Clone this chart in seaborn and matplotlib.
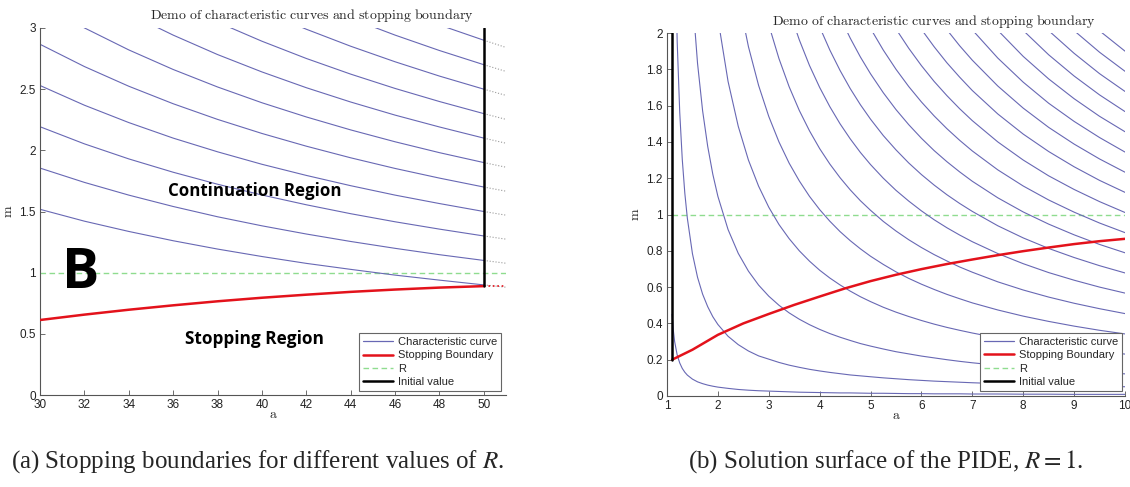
import numpy as np
import pandas as pd
import matplotlib
matplotlib.use("Agg")
import matplotlib.pyplot as plt
from matplotlib.lines import Line2D
from matplotlib.ticker import FormatStrFormatter
import seaborn as sns

# ---------------- panel (a) data ----------------
a_grid_a = [30, 32, 34, 36, 38, 40, 42, 44, 46, 48, 50]
char_curves_a = [
    [1.518, 1.421, 1.337, 1.261, 1.193, 1.132, 1.076, 1.027, 0.980, 0.939, 0.900],
    [1.855, 1.738, 1.634, 1.541, 1.457, 1.383, 1.316, 1.255, 1.199, 1.147, 1.100],
    [2.193, 2.053, 1.930, 1.821, 1.723, 1.635, 1.555, 1.482, 1.416, 1.356, 1.300],
    [2.530, 2.369, 2.227, 2.100, 1.988, 1.886, 1.795, 1.711, 1.634, 1.565, 1.500],
    [2.867, 2.685, 2.524, 2.381, 2.253, 2.138, 2.034, 1.939, 1.852, 1.773, 1.700],
    [3.205, 3.001, 2.821, 2.661, 2.518, 2.389, 2.273, 2.167, 2.070, 1.981, 1.900],
    [3.542, 3.316, 3.118, 2.942, 2.783, 2.641, 2.512, 2.395, 2.288, 2.191, 2.100],
    [3.879, 3.633, 3.414, 3.221, 3.048, 2.892, 2.751, 2.623, 2.506, 2.399, 2.300],
    [4.217, 3.948, 3.711, 3.501, 3.313, 3.144, 2.990, 2.851, 2.724, 2.607, 2.500],
    [4.554, 4.265, 4.009, 3.782, 3.579, 3.395, 3.229, 3.079, 2.942, 2.816, 2.700],
    [4.891, 4.580, 4.306, 4.062, 3.843, 3.647, 3.469, 3.307, 3.160, 3.025, 2.900],
]
ext_grid_a = [50, 51]
char_ext_end_a = [0.881, 1.077, 1.274, 1.470, 1.666, 1.862, 2.058, 2.253, 2.449, 2.645, 2.841]
boundary_m_a = [0.613, 0.657, 0.697, 0.733, 0.766, 0.795, 0.820, 0.843, 0.862, 0.878, 0.890]
boundary_ext_m_a = [0.890, 0.890]
R_a = 1.0
init_a = 50
init_range_a = [0.89, 3.0]

# ---------------- panel (b) data ----------------
a_grid_b = [1.1, 1.125, 1.15, 1.2, 1.25, 1.3, 1.35, 1.4, 1.5, 1.6, 1.7, 1.8, 1.9,
            2.0, 2.2, 2.4, 2.6, 2.8, 3.0, 3.2, 3.4, 3.6, 3.8, 4.0, 4.2, 4.4, 4.6,
            4.8, 5.0, 5.25, 5.5, 5.75, 6.0, 6.25, 6.5, 6.75, 7.0, 7.5, 8.0, 8.5,
            9.0, 9.5, 10.0]
# first a value of every characteristic curve (values then follow a_grid_b)
char_start_b = [1.1, 1.15, 1.5, 2.0, 2.4, 3.0, 3.4, 4.0, 4.4, 5.0, 5.5, 6.0, 6.5,
                7.0, 7.5, 8.0, 8.5, 9.0, 9.5]
char_curves_b = [
    [0.450, 0.360, 0.300, 0.226, 0.182, 0.152, 0.131, 0.115, 0.093, 0.078, 0.068,
     0.060, 0.054, 0.049, 0.042, 0.036, 0.032, 0.029, 0.027, 0.025, 0.023, 0.021,
     0.020, 0.019, 0.018, 0.017, 0.017, 0.016, 0.015, 0.015, 0.014, 0.013, 0.013,
     0.012, 0.012, 0.012, 0.011, 0.011, 0.010, 0.010, 0.009, 0.009, 0.009],
    [2.600, 1.954, 1.564, 1.304, 1.118, 0.979, 0.784, 0.654, 0.561, 0.492, 0.437,
     0.394, 0.329, 0.283, 0.248, 0.221, 0.203, 0.185, 0.170, 0.158, 0.147, 0.138,
     0.130, 0.123, 0.116, 0.111, 0.106, 0.100, 0.095, 0.090, 0.086, 0.082, 0.079,
     0.076, 0.073, 0.068, 0.064, 0.060, 0.057, 0.054, 0.051],
    [2.200, 1.833, 1.571, 1.375, 1.222, 1.100, 0.917, 0.786, 0.688, 0.611, 0.550,
     0.500, 0.458, 0.423, 0.393, 0.367, 0.344, 0.324, 0.306, 0.289, 0.275, 0.259,
     0.244, 0.232, 0.220, 0.210, 0.200, 0.191, 0.183, 0.169, 0.157, 0.147, 0.138,
     0.129, 0.122],
    [2.080, 1.733, 1.486, 1.300, 1.156, 1.040, 0.945, 0.867, 0.800, 0.743, 0.693,
     0.650, 0.612, 0.578, 0.547, 0.520, 0.489, 0.462, 0.438, 0.416, 0.396, 0.378,
     0.362, 0.347, 0.320, 0.297, 0.277, 0.260, 0.245, 0.231],
    [2.200, 1.925, 1.711, 1.540, 1.400, 1.283, 1.185, 1.100, 1.027, 0.963, 0.906,
     0.856, 0.811, 0.770, 0.725, 0.684, 0.648, 0.616, 0.587, 0.560, 0.536, 0.513,
     0.474, 0.440, 0.411, 0.385, 0.362, 0.342],
    [2.045, 1.859, 1.704, 1.573, 1.461, 1.363, 1.278, 1.203, 1.136, 1.076, 1.023,
     0.962, 0.909, 0.861, 0.818, 0.779, 0.744, 0.711, 0.682, 0.629, 0.584, 0.545,
     0.511, 0.481, 0.454],
    [2.125, 1.962, 1.821, 1.700, 1.594, 1.500, 1.417, 1.342, 1.275, 1.200, 1.133,
     1.074, 1.020, 0.971, 0.927, 0.887, 0.850, 0.785, 0.729, 0.680, 0.638, 0.600,
     0.567],
    [2.033, 1.906, 1.794, 1.694, 1.605, 1.525, 1.435, 1.356, 1.284, 1.220, 1.162,
     1.109, 1.061, 1.017, 0.938, 0.871, 0.813, 0.763, 0.718, 0.678],
    [2.088, 1.972, 1.868, 1.775, 1.671, 1.578, 1.495, 1.420, 1.352, 1.291, 1.235,
     1.183, 1.092, 1.014, 0.947, 0.888, 0.835, 0.789],
    [2.025, 1.906, 1.800, 1.705, 1.620, 1.543, 1.473, 1.409, 1.350, 1.246, 1.157,
     1.080, 1.013, 0.953, 0.900],
    [2.022, 1.916, 1.820, 1.733, 1.655, 1.583, 1.517, 1.400, 1.300, 1.213, 1.138,
     1.071, 1.011],
    [2.020, 1.924, 1.836, 1.757, 1.683, 1.554, 1.443, 1.347, 1.263, 1.188, 1.122],
    [2.018, 1.930, 1.850, 1.708, 1.586, 1.480, 1.388, 1.306, 1.233],
    [2.017, 1.862, 1.729, 1.613, 1.513, 1.424, 1.344],
    [2.015, 1.871, 1.747, 1.638, 1.541, 1.456],
    [2.014, 1.880, 1.763, 1.659, 1.567],
    [2.013, 1.888, 1.776, 1.678],
    [2.013, 1.894, 1.789],
    [2.012, 1.900],
]
boundary_a_b = [1.1, 1.5, 2.0, 2.5, 3.0, 3.5, 4.0, 4.5, 5.0, 5.5, 6.0, 6.5, 7.0,
                7.5, 8.0, 8.5, 9.0, 9.5, 10.0]
boundary_m_b = [0.200, 0.255, 0.337, 0.400, 0.452, 0.502, 0.548, 0.593, 0.633,
                0.668, 0.699, 0.727, 0.752, 0.776, 0.798, 0.818, 0.837, 0.853, 0.866]
R_b = 1.0
init_b = 1.1
init_range_b = [0.2, 2.0]

title_text = r"$\mathrm{Demo\ of\ characteristic\ curves\ and\ stopping\ boundary}$"
legend_labels = ["Characteristic curve", "Stopping Boundary", "R", "Initial value"]
caption_a = "(a) Stopping boundaries for different values of $R$."
caption_b = "(b) Solution surface of the PIDE, $R = 1$."

# ---------------- styling ----------------
BLUE = "#6868b4"
RED = "#e3121b"
GREEN = "#8fdc8f"
GREY = "#9a9a9a"
AXC = "#555555"

sns.set_theme(style="white")
plt.rcParams["font.family"] = ["Liberation Sans", "DejaVu Sans"]


def long_df_a(grid, curves):
    rows = []
    for i, c in enumerate(curves):
        for x, y in zip(grid, c):
            rows.append((i, x, y))
    return pd.DataFrame(rows, columns=["curve", "a", "m"])


def long_df_b(grid, starts, curves):
    rows = []
    for i, (s, c) in enumerate(zip(starts, curves)):
        k = grid.index(s)
        for x, y in zip(grid[k:], c):
            rows.append((i, x, y))
    return pd.DataFrame(rows, columns=["curve", "a", "m"])


fig = plt.figure(figsize=(11.3, 4.87), dpi=100)
axA = fig.add_axes([40 / 1130, 92 / 487, 466 / 1130, 367 / 487])
axB = fig.add_axes([667 / 1130, 91 / 487, 458 / 1130, 363 / 487])

# ---- panel (a) ----
dfA = long_df_a(a_grid_a, char_curves_a)
sns.lineplot(data=dfA, x="a", y="m", units="curve", estimator=None, color=BLUE,
             lw=0.8, ax=axA, legend=False)
ext_rows = []
for i, (c, e) in enumerate(zip(char_curves_a, char_ext_end_a)):
    ext_rows += [(i, ext_grid_a[0], c[-1]), (i, ext_grid_a[1], e)]
dfExt = pd.DataFrame(ext_rows, columns=["curve", "a", "m"])
sns.lineplot(data=dfExt, x="a", y="m", units="curve", estimator=None, color=GREY,
             lw=0.8, ls=":", ax=axA, legend=False)
axA.axhline(R_a, color=GREEN, lw=1.0, ls=(0, (4, 2.5)), zorder=1)
sns.lineplot(x=a_grid_a, y=boundary_m_a, color=RED, lw=1.8, ax=axA,
             estimator=None, legend=False, zorder=3)
axA.plot(ext_grid_a, boundary_ext_m_a, color=RED, lw=1.2, ls=":", zorder=3)
axA.plot([init_a, init_a], init_range_a, color="black", lw=1.8, zorder=4)

axA.text(39.66, 1.664, "Continuation Region", fontfamily="Open Sans",
         fontweight="bold", fontsize=12.2, ha="center", va="center", color="black")
axA.text(39.68, 0.456, "Stopping Region", fontfamily="Open Sans",
         fontweight="bold", fontsize=12.4, ha="center", va="center", color="black")
axA.text(31.85, 0.99, "B", fontfamily="Open Sans", fontweight="bold",
         fontsize=40, ha="center", va="center", color="black")

axA.set_xlim(30, 51)
axA.set_ylim(0, 3)
axA.set_xticks(list(range(30, 51, 2)))
axA.set_yticks([0, 0.5, 1, 1.5, 2, 2.5, 3])

# ---- panel (b) ----
dfB = long_df_b(a_grid_b, char_start_b, char_curves_b)
sns.lineplot(data=dfB, x="a", y="m", units="curve", estimator=None, color=BLUE,
             lw=0.8, ax=axB, legend=False)
axB.hlines(R_b, init_b, 10, color=GREEN, lw=1.0, ls=(0, (4, 2.5)), zorder=1)
sns.lineplot(x=boundary_a_b, y=boundary_m_b, color=RED, lw=1.8, ax=axB,
             estimator=None, legend=False, zorder=3)
axB.plot([init_b, init_b], init_range_b, color="black", lw=1.8, zorder=4)
axB.set_xlim(1, 10)
axB.set_ylim(0, 2)
axB.set_xticks(list(range(1, 11)))
axB.set_yticks([0, 0.2, 0.4, 0.6, 0.8, 1, 1.2, 1.4, 1.6, 1.8, 2])

handles = [Line2D([], [], color=BLUE, lw=0.9),
           Line2D([], [], color=RED, lw=1.8),
           Line2D([], [], color=GREEN, lw=1.0, ls=(0, (4, 2.5))),
           Line2D([], [], color="black", lw=1.8)]

for ax, anchor in ((axA, (0.989, 0.011)), (axB, (0.993, 0.014))):
    for s in ("top", "right"):
        ax.spines[s].set_visible(False)
    for s in ("left", "bottom"):
        ax.spines[s].set_color(AXC)
        ax.spines[s].set_linewidth(0.8)
    ax.tick_params(direction="in", length=3.5, width=0.6, color=AXC, pad=3,
                   labelsize=8.5, labelcolor="#222222", bottom=True, left=True)
    ax.xaxis.set_major_formatter(FormatStrFormatter("%g"))
    ax.yaxis.set_major_formatter(FormatStrFormatter("%g"))
    ax.set_xlabel(r"$\mathrm{a}$", fontsize=10, math_fontfamily="cm", labelpad=-3)
    ax.set_ylabel(r"$\mathrm{m}$", fontsize=10, math_fontfamily="cm")
    ax.yaxis.set_label_coords(-0.054, 0.5)
    ax.text(0.583, 1 + 12 / 367, title_text, transform=ax.transAxes, ha="center",
            va="center", fontsize=10, math_fontfamily="cm")
    leg = ax.legend(handles, legend_labels, loc="lower right", bbox_to_anchor=anchor,
                    prop={"family": "Liberation Sans", "size": 8}, fancybox=False,
                    framealpha=1, edgecolor="#666666", borderpad=0.35,
                    handlelength=2.7, handletextpad=0.4, labelspacing=0.3,
                    borderaxespad=0)
    leg.get_frame().set_linewidth(0.8)
    ax.set_facecolor("white")

fig.text(258 / 1130, 1 - 462 / 487, caption_a, ha="center", va="center",
         family="Liberation Serif", fontsize=18, math_fontfamily="stix")
fig.text(886 / 1130, 1 - 462 / 487, caption_b, ha="center", va="center",
         family="Liberation Serif", fontsize=18, math_fontfamily="stix")

fig.savefig("out.png", dpi=100, facecolor="white")
